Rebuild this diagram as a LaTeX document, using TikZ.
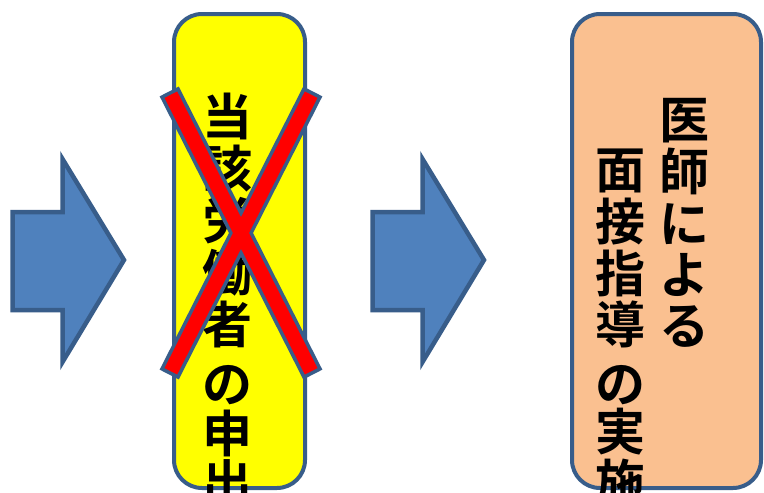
\documentclass[tikz,border=0pt]{standalone}
\usepackage{fontspec}
\newfontfamily\jpfont{Noto Sans CJK JP}[BoldFont={Noto Sans CJK JP Bold}]
\definecolor{arrowfill}{HTML}{4F81BD}
\definecolor{edgeblue}{HTML}{385D8A}
\definecolor{boxyellow}{HTML}{FFFF00}
\definecolor{boxpeach}{HTML}{FAC090}
\definecolor{crossred}{HTML}{FF0000}
\tikzset{
  blockarrow/.style={fill=arrowfill, draw=edgeblue, line width=4.5pt, line join=miter},
  panel/.style={draw=edgeblue, line width=4pt, rounded corners=28pt, inner sep=0pt},
  crossmark/.style={fill=crossred, draw=edgeblue, line width=3.5pt, line join=miter},
  glyph/.style={font=\jpfont\bfseries\fontsize{50}{50}\selectfont, inner sep=0pt,
    text height=0.88em, text depth=0.12em, anchor=center}
}
\begin{document}
\begin{tikzpicture}[x=1pt,y=-1pt]
\useasboundingbox (0,0) rectangle (764,493);
\clip (0,0) rectangle (764,493);
\fill[white] (0,0) rectangle (764,493);
% arrows
\foreach \dx in {0,360}{
  \draw[blockarrow, shift={(\dx,0)}]
    (12.5,212) -- (62.5,212) -- (62.5,159) -- (124,260) -- (62.5,362)
    -- (62.5,310) -- (12.5,310) -- cycle;
}
% yellow panel
\node[panel, fill=boxyellow, minimum width=131pt, minimum height=474pt] (req) at (239.5,251) {};
% peach panel
\node[panel, fill=boxpeach, minimum width=189pt, minimum height=474pt] (exam) at (666.5,251) {};
% yellow text
\foreach \c/\y [count=\i] in {当/132,該/184,労/236,働/288,者/340,の/399,申/449,出/498}{
  \node[glyph] (ytext\i) at (227,\y) {\c};
}
% peach text right column
\foreach \c/\y [count=\i] in {医/135,師/187,に/239,よ/290,る/341}{
  \node[glyph] (rtext\i) at (684.5,\y) {\c};
}
% peach text left column
\foreach \c/\y [count=\i] in {面/185,接/237,指/289,導/340,の/399,実/447,施/498}{
  \node[glyph] (ltext\i) at (620,\y) {\c};
}
% red cross
\draw[crossmark]
  (162,97.1) -- (178,88.9) -- (241,213.1) -- (304,88.9) -- (320,97.1)
  -- (251.1,233) -- (320,368.9) -- (304,377.1) -- (241,252.9)
  -- (178,377.1) -- (162,368.9) -- (230.9,233) -- cycle;
\end{tikzpicture}
\end{document}
